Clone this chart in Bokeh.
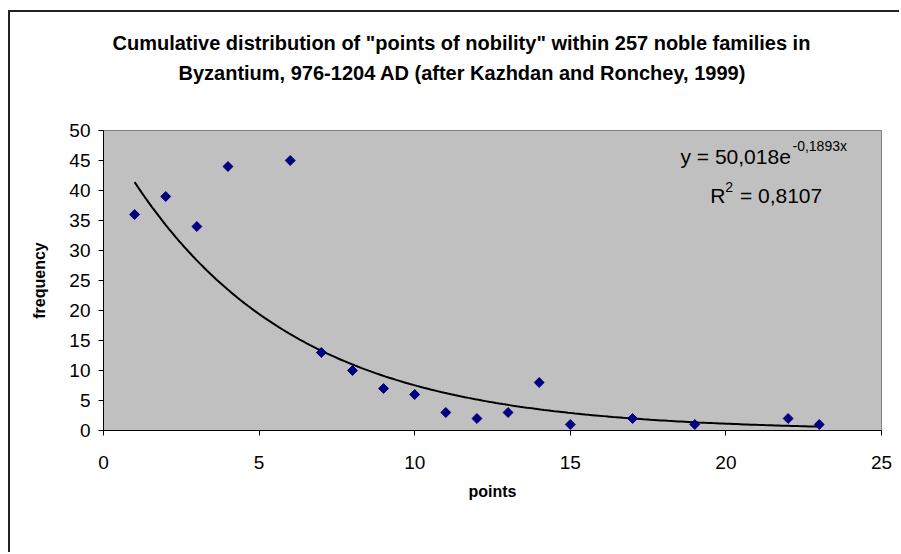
import numpy as np
from bokeh.plotting import figure
from bokeh.models import Label, Range1d, FixedTicker, Title
from bokeh.embed import file_html
from bokeh.resources import INLINE

# ---- data ----
points = [1, 2, 3, 4, 6, 7, 8, 9, 10, 11, 12, 13, 14, 15, 17, 19, 22, 23]
frequency = [36, 39, 34, 44, 45, 13, 10, 7, 6, 3, 2, 3, 8, 1, 2, 1, 2, 1]
x_ticks = [0, 5, 10, 15, 20, 25]
y_ticks = [0, 5, 10, 15, 20, 25, 30, 35, 40, 45, 50]
title_lines = ['Cumulative distribution of "points of nobility" within 257 noble families in',
               'Byzantium, 976-1204 AD (after Kazhdan and Ronchey, 1999)']
eq_main = "y = 50,018e"
eq_exp = "-0,1893x"
r2_main = "R"
r2_exp = "2"
r2_rest = " = 0,8107"

# exponential trendline, least squares on log(y) like Excel
slope, ln_a = np.polyfit(np.array(points, float), np.log(np.array(frequency, float)), 1)
trend_x = np.linspace(min(points), max(points), 200)
trend_y = np.exp(ln_a) * np.exp(slope * trend_x)

FONT = "Liberation Sans"

p = figure(width=891, height=542, output_backend="svg", toolbar_location=None,
           x_range=Range1d(0, 25), y_range=Range1d(0, 50),
           min_border_left=93, min_border_right=20, min_border_top=118, min_border_bottom=124,
           background_fill_color="#C0C0C0", border_fill_color="white",
           outline_line_color="#808080", outline_line_width=1)
p.styles = {"margin-left": "8px", "margin-top": "10px",
            "border-left": "2px solid #222222", "border-top": "2px solid #222222"}
p.xgrid.visible = False
p.ygrid.visible = False

for ax, ticks in ((p.xaxis, x_ticks), (p.yaxis, y_ticks)):
    ax.ticker = FixedTicker(ticks=ticks)
    ax.minor_tick_line_color = None
    ax.major_tick_in = 0
    ax.major_tick_out = 5
    ax.axis_line_color = "black"
    ax.major_tick_line_color = "black"
    ax.major_label_text_font = FONT
    ax.major_label_text_font_size = "19px"
    ax.major_label_text_color = "black"
    ax.axis_label_text_font = FONT
    ax.axis_label_text_font_size = "16px"
    ax.axis_label_text_font_style = "bold"
    ax.axis_label_text_color = "black"

p.xaxis.axis_label = "points"
p.yaxis.axis_label = "frequency"
p.xaxis.major_label_standoff = 20
p.yaxis.major_label_standoff = 8
p.xaxis.axis_label_standoff = 11
p.yaxis.axis_label_standoff = 18

p.line(trend_x, trend_y, line_color="black", line_width=2)
p.scatter(points, frequency, marker="square", angle=np.pi / 4, size=7,
          fill_color="#000080", line_color="#000080")

# title: spacer nearest the frame, then line 2, then line 1
p.add_layout(Title(text=" ", text_font_size="20px", standoff=20), "above")
p.add_layout(Title(text=title_lines[1], align="left", offset=75, text_font=FONT,
                   text_font_size="20px", text_font_style="bold", text_color="black",
                   standoff=6), "above")
p.add_layout(Title(text=title_lines[0], align="left", offset=9, text_font=FONT,
                   text_font_size="20px", text_font_style="bold", text_color="black",
                   standoff=6), "above")

# trendline equation
p.add_layout(Label(x=18.54, y=45.6, text=eq_main, text_baseline="middle",
                   text_font=FONT, text_font_size="21px", text_color="black"))
p.add_layout(Label(x=22.14, y=47.5, text=eq_exp, text_baseline="middle",
                   text_font=FONT, text_font_size="14px", text_color="black"))
p.add_layout(Label(x=19.5, y=39.2, text=r2_main, text_baseline="middle",
                   text_font=FONT, text_font_size="21px", text_color="black"))
p.add_layout(Label(x=19.98, y=40.6, text=r2_exp, text_baseline="middle",
                   text_font=FONT, text_font_size="14px", text_color="black"))
p.add_layout(Label(x=20.45, y=39.2, text=r2_rest, text_baseline="middle",
                   text_font=FONT, text_font_size="21px", text_color="black"))

open("out.html", "w").write(file_html(p, INLINE))
